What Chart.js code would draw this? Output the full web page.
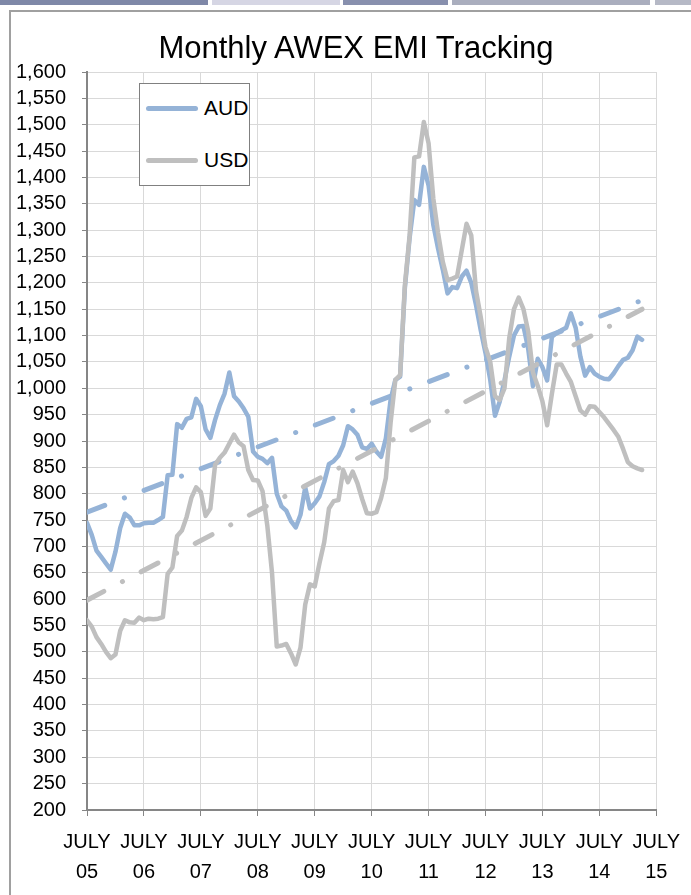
<!DOCTYPE html>
<html>
<head>
<meta charset="utf-8">
<title>Monthly AWEX EMI Tracking</title>
<script src="https://cdn.jsdelivr.net/npm/chart.js@4.4.1/dist/chart.umd.min.js"></script>
<style>
  html, body { margin: 0; padding: 0; background: #fff; }
  #contenedor { position: relative; width: 691px; height: 895px; overflow: hidden; }
  .pestana { position: absolute; top: 0; height: 5px; }
  #marco { position: absolute; left: 9px; top: 10px; width: 720px; height: 920px;
           border-left: 2px solid #a0a0a0; border-top: 2px solid #a0a0a0; }
  #grafica { position: absolute; left: 0; top: 0; }
  #titulo { position: absolute; left: 56px; width: 600px; top: 28px; text-align: center;
            font-family: 'Liberation Sans', Arial, sans-serif; font-size: 31px; line-height: 40px; color: #000; }
  #leyenda { position: absolute; left: 139px; top: 83px; width: 109px; height: 101px;
             border: 1.5px solid #808080; background: #fff;
             font-family: 'Liberation Sans', Arial, sans-serif; font-size: 21px; color: #000; }
  .item { position: absolute; left: 5px; height: 24px; }
  .muestra { position: absolute; left: 1px; top: 10px; width: 52px; height: 5px; border-radius: 3px; }
  .texto { position: absolute; left: 59px; top: 0; line-height: 24px; }
</style>
</head>
<body>
<div id="contenedor">
  <div class="pestana" style="left:0;width:208px;background:#7f88a8"></div>
  <div class="pestana" style="left:212px;width:128px;background:#d6d6e4"></div>
  <div class="pestana" style="left:343px;width:105px;background:#8890ae"></div>
  <div class="pestana" style="left:452px;width:198px;background:#aaaebe"></div>
  <div class="pestana" style="left:655px;width:36px;background:#b6b9c6"></div>
  <div id="marco"></div>
  <canvas id="grafica" width="691" height="895"></canvas>
  <div id="titulo">Monthly AWEX EMI Tracking</div>
  <div id="leyenda">
    <div class="item" style="top:12px"><div class="muestra" style="background:#95b3d7"></div><div class="texto">AUD</div></div>
    <div class="item" style="top:64px"><div class="muestra" style="background:#bfbfbf"></div><div class="texto">USD</div></div>
  </div>
</div>
<script>
// valores mensuales desde julio 2005
var audValores = [
  745, 722, 692, 680, 668, 656, 690, 735, 762, 755, 740, 740,
  744, 745, 745, 750, 756, 835, 836, 932, 925, 942, 945, 980,
  966, 922, 906, 940, 968, 990, 1030, 985, 975, 962, 946, 880,
  870, 866, 858, 868, 800, 776, 768, 748, 736, 760, 812, 772,
  782, 795, 822, 856, 862, 872, 892, 928, 922, 912, 888, 885,
  895, 880, 870, 905, 978, 1016, 1022, 1190, 1285, 1357, 1348, 1420,
  1385, 1310, 1265, 1225, 1180, 1192, 1190, 1212, 1223, 1200, 1158, 1110,
  1067, 1016, 948, 975, 1015, 1060, 1100, 1117, 1118, 1075, 1004, 1056,
  1040, 1015, 1098, 1105, 1110, 1115, 1142, 1115, 1060, 1024, 1040, 1028,
  1022, 1018, 1017, 1028, 1042, 1054, 1058, 1072, 1098, 1092
];
var usdValores = [
  560, 548, 528, 515, 500, 488, 495, 540, 560, 556, 555, 565,
  560, 563, 562, 563, 566, 648, 660, 720, 730, 756, 792, 812,
  803, 758, 772, 855, 868, 878, 895, 912, 897, 890, 845, 826,
  825, 805, 740, 650, 510, 512, 515, 497, 476, 508, 590, 628,
  624, 668, 708, 772, 786, 788, 845, 822, 842, 820, 790, 763,
  762, 765, 792, 830, 935, 1016, 1025, 1195, 1290, 1438, 1440, 1505,
  1465, 1360, 1295, 1240, 1205, 1208, 1212, 1262, 1312, 1290, 1185, 1135,
  1078, 1050, 985, 978, 1000, 1095, 1150, 1172, 1150, 1108, 1030, 1005,
  975, 930, 990, 1045, 1045, 1028, 1012, 985, 958, 950, 966, 965,
  955, 945, 933, 921, 908, 885, 860, 852, 848, 845
];
// extremos de las lineas de tendencia
var audTendencia = [765, 1167];
var usdTendencia = [598, 1150];

var mesEtiqueta = 'JULY';
var anioEtiquetas = ['05', '06', '07', '08', '09', '10', '11', '12', '13', '14', '15'];
var ejeYMin = 200;
var ejeYMax = 1600;
var ejeYPaso = 50;

var fuente = "'Liberation Sans', Arial, sans-serif";

function aPuntos(valores) {
  return valores.map(function(v, i) { return { x: i, y: v }; });
}
function aTendencia(extremos, n) {
  return [{ x: 0, y: extremos[0] }, { x: n - 1, y: extremos[1] }];
}

var ctx = document.getElementById('grafica').getContext('2d');
var chart = new Chart(ctx, {
  type: 'line',
  data: {
    datasets: [
      { label: 'USD', data: aPuntos(usdValores), borderColor: '#bfbfbf', borderWidth: 4.5,
        pointRadius: 0, tension: 0, borderJoinStyle: 'round', borderCapStyle: 'round' },
      { label: 'USD tendencia', data: aTendencia(usdTendencia, usdValores.length), borderColor: '#bfbfbf',
        borderWidth: 5, borderDash: [19, 21, 0.1, 21], borderCapStyle: 'round', pointRadius: 0 },
      { label: 'AUD', data: aPuntos(audValores), borderColor: '#95b3d7', borderWidth: 4.5,
        pointRadius: 0, tension: 0, borderJoinStyle: 'round', borderCapStyle: 'round' },
      { label: 'AUD tendencia', data: aTendencia(audTendencia, audValores.length), borderColor: '#95b3d7',
        borderWidth: 5, borderDash: [19, 21, 0.1, 21], borderCapStyle: 'round', pointRadius: 0 }
    ]
  },
  options: {
    responsive: false,
    animation: false,
    layout: { padding: { left: 0, right: 30, top: 72, bottom: 0 } },
    plugins: {
      legend: { display: false },
      tooltip: { enabled: false },
      title: { display: false }
    },
    scales: {
      x: {
        type: 'linear',
        min: 0,
        max: (anioEtiquetas.length - 1) * 12,
        afterBuildTicks: function(escala) {
          escala.ticks = anioEtiquetas.map(function(a, i) { return { value: i * 12 }; });
        },
        afterFit: function(escala) { escala.height = 85; },
        ticks: {
          color: '#000',
          font: { family: fuente, size: 20, lineHeight: 1.5 },
          padding: 11,
          maxRotation: 0,
          autoSkip: false,
          callback: function(v, i) { return [mesEtiqueta, anioEtiquetas[i]]; }
        },
        grid: { color: '#d9d9d9', lineWidth: 1, tickLength: 6, tickColor: '#868686' },
        border: { color: '#868686', width: 2 }
      },
      y: {
        min: ejeYMin,
        max: ejeYMax,
        afterFit: function(escala) { escala.width = 87; },
        ticks: {
          stepSize: ejeYPaso,
          autoSkip: false,
          color: '#000',
          font: { family: fuente, size: 20 },
          padding: 16,
          callback: function(v) { return v.toLocaleString('en-US'); }
        },
        grid: { color: '#d9d9d9', lineWidth: 1, tickLength: 5, tickColor: '#868686' },
        border: { color: '#868686', width: 2 }
      }
    }
  }
});
</script>
</body>
</html>
